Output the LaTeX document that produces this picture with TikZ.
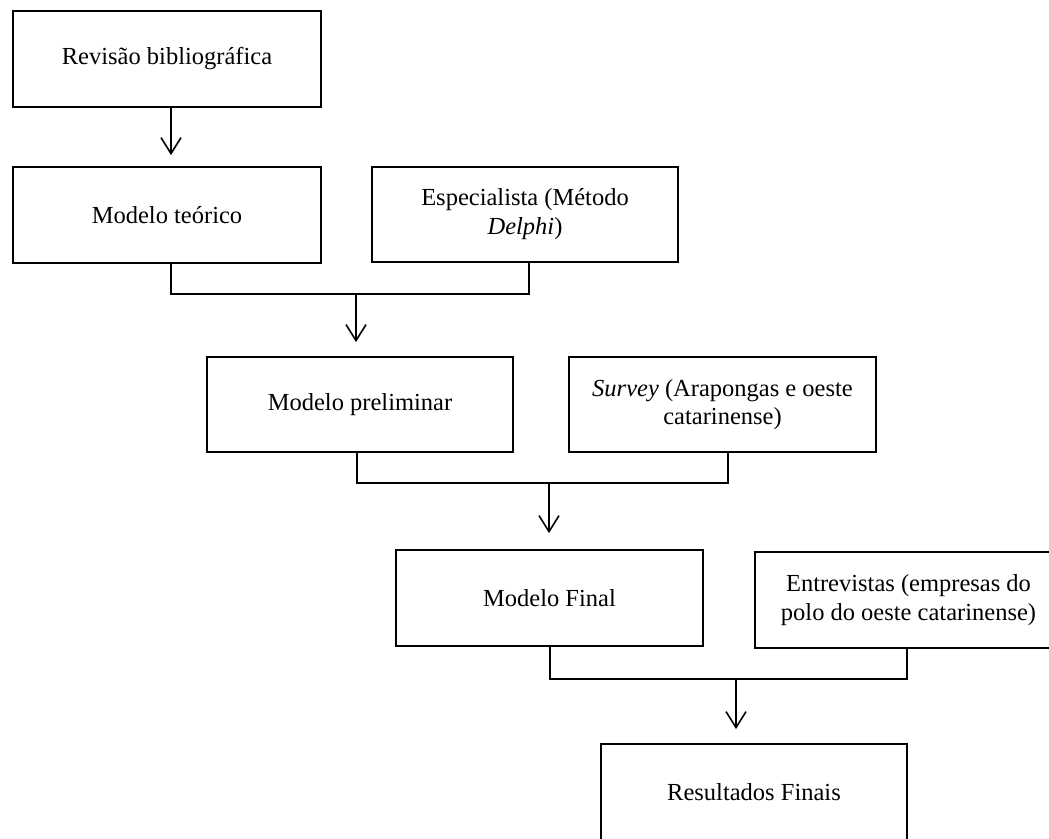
\documentclass[tikz,border=0pt]{standalone}
\usepackage{fontspec}
\setmainfont{Liberation Serif}
\usetikzlibrary{arrows.meta}

\begin{document}
\begin{tikzpicture}[x=1pt, y=-1pt,
  stage/.style={draw=black, line width=1.8pt, inner sep=0pt, align=center,
    minimum width=307pt, minimum height=96pt, font=\fontsize{24.5}{28.5}\selectfont},
  link/.style={draw=black, line width=2.4pt},
  flow/.style={draw=black, line width=1.6pt,
    -{Straight Barb[length=16pt, width=20pt, line width=1.6pt]}}]
  \useasboundingbox (0,0) rectangle (1049,838);
  \clip (0,0) rectangle (1049,838);
  \fill[white] (0,0) rectangle (1049,838);

  % stages of the research
  \node[stage, minimum width=308pt] (rev) at (167,59) {Revisão bibliográfica};
  \node[stage, minimum width=308pt] (teo) at (167,215) {Modelo teórico};
  \node[stage, minimum width=306pt, minimum height=95pt] (esp) at (525,214.5)
    {\raisebox{-6pt}{\begin{tabular}{@{}c@{}}Especialista (Método\\\textit{Delphi})\end{tabular}}};
  \node[stage, minimum width=306pt, minimum height=95pt] (pre) at (360,404.5) {Modelo preliminar};
  \node[stage, minimum height=95pt] (sur) at (722.5,404.5) {\textit{Survey} (Arapongas e oeste\\catarinense)};
  \node[stage] (fin) at (549.5,598) {Modelo Final};
  \node[stage] (ent) at (908.5,600) {Entrevistas (empresas do\\polo do oeste catarinense)};
  \node[stage, minimum width=306pt] (res) at (754,792) {Resultados Finais};

  % junction points where two branches merge
  \coordinate (j1) at (356,294);
  \coordinate (j2) at (549,483);
  \coordinate (j3) at (736,679);

  % single step
  \draw[flow, shorten >=11pt] ([xshift=4pt]rev.south) -- ([xshift=4pt]teo.north);

  % merge 1
  \draw[link] ([xshift=4pt]teo.south) |- (j1) -| ([xshift=4pt]esp.south);
  \draw[flow, shorten >=14pt] (j1) -- (j1 |- pre.north);

  % merge 2
  \draw[link] ([xshift=-3pt]pre.south) |- (j2) -| ([xshift=5.5pt]sur.south);
  \draw[flow, shorten >=16pt] (j2) -- (j2 |- fin.north);

  % merge 3
  \draw[link] ([xshift=0.5pt]fin.south) |- (j3) -| ([xshift=-1.5pt]ent.south);
  \draw[flow, shorten >=14pt] (j3) -- (j3 |- res.north);
\end{tikzpicture}
\end{document}
